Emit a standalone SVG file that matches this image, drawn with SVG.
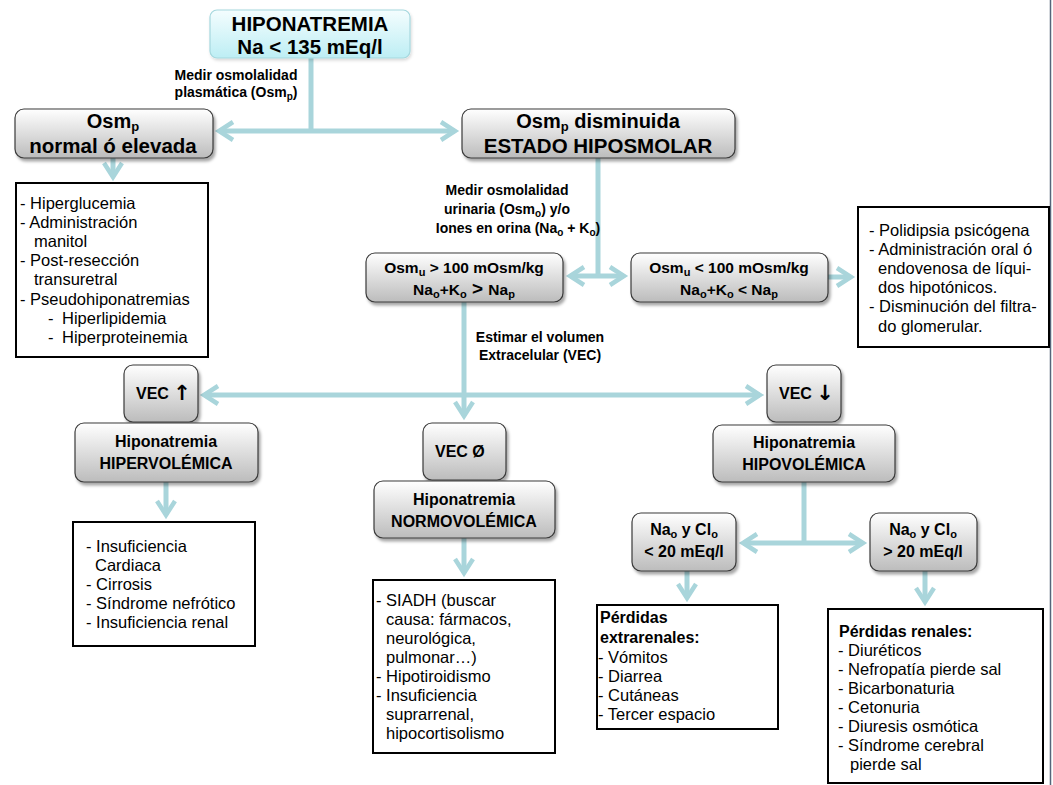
<svg xmlns="http://www.w3.org/2000/svg" width="1053" height="785" viewBox="0 0 1053 785">
<style>
.gb{fill:url(#gGray);stroke:#3a3a3a;stroke-width:1.2;filter:url(#sh)}
.cb{fill:url(#gCyan);stroke:#a6d8de;stroke-width:1.2;filter:url(#sh2)}
.lb{fill:#ffffff;stroke:#000000;stroke-width:2}
.h{font-family:"Liberation Sans",Arial,sans-serif;font-weight:bold;fill:#000;text-anchor:middle}
.t{font-family:"Liberation Sans",Arial,sans-serif;font-size:16.5px;fill:#000}
.tb{font-family:"Liberation Sans",Arial,sans-serif;font-size:16px;font-weight:bold;fill:#000}
.lab{font-family:"Liberation Sans",Arial,sans-serif;font-size:14px;font-weight:bold;fill:#000;text-anchor:middle}
.c{fill:none;stroke:#a9d5db;stroke-width:5}
.ca{fill:none;stroke:#a9d5db;stroke-width:5;marker-end:url(#ah)}
</style>
<defs>
<linearGradient id="gGray" x1="0" y1="0" x2="0" y2="1">
<stop offset="0" stop-color="#ffffff"/>
<stop offset="1" stop-color="#bcbcbc"/>
</linearGradient>
<linearGradient id="gCyan" x1="0" y1="0" x2="0" y2="1">
<stop offset="0" stop-color="#f4fdfe"/>
<stop offset="1" stop-color="#bdeef4"/>
</linearGradient>
<filter id="sh" x="-20%" y="-20%" width="140%" height="150%">
<feDropShadow dx="2" dy="3" stdDeviation="1.8" flood-color="#000" flood-opacity="0.35"/>
</filter>
<filter id="sh2" x="-20%" y="-20%" width="140%" height="150%">
<feDropShadow dx="1" dy="2" stdDeviation="1.5" flood-color="#000" flood-opacity="0.15"/>
</filter>
<marker id="ah" viewBox="-20 -12 26 24" refX="0" refY="0" markerWidth="26" markerHeight="24" markerUnits="userSpaceOnUse" orient="auto">
<path d="M-14,-9 L0,0 L-14,9" fill="none" stroke="#a9d5db" stroke-width="4.5"/>
</marker>
</defs>
<rect x="0" y="0" width="1053" height="785" fill="#ffffff"/>
<line x1="1050.5" y1="0" x2="1050.5" y2="785" stroke="#56657a" stroke-width="1.5"/>

<g id="connectors">
<path class="c" d="M311,58 V131"/>
<path class="ca" d="M311,131 H219"/>
<path class="ca" d="M311,131 H455"/>
<path class="ca" d="M113,158 V177"/>
<path class="c" d="M598,158 V276"/>
<path class="ca" d="M598,276 H570"/>
<path class="ca" d="M598,276 H624"/>
<path class="ca" d="M828,277 H851"/>
<path class="c" d="M464,302 V395"/>
<path class="ca" d="M464,395 H204"/>
<path class="ca" d="M464,395 H760"/>
<path class="ca" d="M464,395 V416"/>
<path class="ca" d="M166,482 V515"/>
<path class="ca" d="M464,538 V573"/>
<path class="c" d="M804,482 V543"/>
<path class="ca" d="M804,543 H743"/>
<path class="ca" d="M804,543 H863"/>
<path class="ca" d="M687,571 V598"/>
<path class="ca" d="M925,571 V602"/>
</g>

<g id="lbl-plasma">
<text class="lab" x="236" y="80">Medir osmolalidad</text>
<text class="lab" x="236" y="97">plasmática (Osm<tspan font-size="10" dy="3">p</tspan><tspan dy="-3">)</tspan></text>
</g>
<g id="lbl-urina">
<text class="lab" x="507" y="195">Medir osmolalidad</text>
<text class="lab" x="507" y="214">urinaria (Osm<tspan font-size="10" dy="3">o</tspan><tspan dy="-3">) y/o</tspan></text>
<text class="lab" x="518" y="233">Iones en orina (Na<tspan font-size="10" dy="3">o</tspan><tspan dy="-3"> + K</tspan><tspan font-size="10" dy="3">o</tspan><tspan dy="-3">)</tspan></text>
</g>
<g id="lbl-vec">
<text class="lab" x="540" y="342">Estimar el volumen</text>
<text class="lab" x="540" y="360">Extracelular (VEC)</text>
</g>

<g id="n-hipo">
<rect class="cb" x="210" y="10" width="200" height="48" rx="7"/>
<text class="h" x="310" y="31" font-size="20.5">HIPONATREMIA</text>
<text class="h" x="310" y="54" font-size="20.5">Na &lt; 135 mEq/l</text>
</g>

<g id="n-osm-normal">
<rect class="gb" x="15" y="109" width="198" height="49" rx="9"/>
<text class="h" x="113" y="128" font-size="20">Osm<tspan font-size="13" dy="3">p</tspan></text>
<text class="h" x="113" y="153" font-size="20.5">normal ó elevada</text>
</g>

<g id="n-osm-dism">
<rect class="gb" x="462" y="109" width="273" height="49" rx="9"/>
<text class="h" x="598" y="128" font-size="20">Osm<tspan font-size="13" dy="3">p</tspan><tspan dy="-3"> disminuida</tspan></text>
<text class="h" x="598" y="153" font-size="20.5">ESTADO HIPOSMOLAR</text>
</g>

<g id="l-normal">
<rect class="lb" x="16" y="183" width="192" height="174"/>
<text class="t" x="20" y="209">- Hiperglucemia</text>
<text class="t" x="20" y="228">- Administración</text>
<text class="t" x="34" y="247">manitol</text>
<text class="t" x="20" y="266">- Post-resección</text>
<text class="t" x="34" y="285">transuretral</text>
<text class="t" x="20" y="305">- Pseudohiponatremias</text>
<text class="t" x="48" y="324">-</text><text class="t" x="62" y="324">Hiperlipidemia</text>
<text class="t" x="48" y="343">-</text><text class="t" x="62" y="343">Hiperproteinemia</text>
</g>

<g id="n-osmu-high">
<rect class="gb" x="366" y="253" width="197" height="49" rx="9"/>
<text class="h" x="464" y="273" font-size="15.5">Osm<tspan font-size="11" dy="3">u</tspan><tspan dy="-3"> &gt; 100 mOsm/kg</tspan></text>
<text class="h" x="464" y="295" font-size="15.5">Na<tspan font-size="11" dy="3">o</tspan><tspan dy="-3">+K</tspan><tspan font-size="11" dy="3">o</tspan><tspan dy="-3" font-size="19"> &gt; </tspan><tspan>Na</tspan><tspan font-size="11" dy="3">p</tspan></text>
</g>

<g id="n-osmu-low">
<rect class="gb" x="631" y="253" width="197" height="49" rx="9"/>
<text class="h" x="729" y="273" font-size="15.5">Osm<tspan font-size="11" dy="3">u</tspan><tspan dy="-3"> &lt; 100 mOsm/kg</tspan></text>
<text class="h" x="729" y="295" font-size="15.5">Na<tspan font-size="11" dy="3">o</tspan><tspan dy="-3">+K</tspan><tspan font-size="11" dy="3">o</tspan><tspan dy="-3"> &lt; Na</tspan><tspan font-size="11" dy="3">p</tspan></text>
</g>

<g id="l-low">
<rect class="lb" x="858" y="207" width="191" height="140"/>
<text class="t" x="869" y="236">- Polidipsia psicógena</text>
<text class="t" x="869" y="255">- Administración oral ó</text>
<text class="t" x="878" y="274">endovenosa de líqui-</text>
<text class="t" x="878" y="293">dos hipotónicos.</text>
<text class="t" x="869" y="312">- Disminución del filtra-</text>
<text class="t" x="878" y="332">do glomerular.</text>
</g>

<g id="n-vec-up">
<rect class="gb" x="124" y="365" width="74" height="57" rx="9"/>
<text class="tb" x="136" y="399">VEC <tspan font-family="DejaVu Sans" font-size="21" dy="1">↑</tspan></text>
</g>

<g id="n-hiper">
<rect class="gb" x="75" y="423" width="183" height="59" rx="9"/>
<text class="h" x="166" y="447" font-size="16">Hiponatremia</text>
<text class="h" x="166" y="469" font-size="16">HIPERVOLÉMICA</text>
</g>

<g id="l-hiper">
<rect class="lb" x="73" y="522" width="182" height="124"/>
<text class="t" x="86" y="552">- Insuficiencia</text>
<text class="t" x="95" y="571">Cardiaca</text>
<text class="t" x="86" y="590">- Cirrosis</text>
<text class="t" x="86" y="609">- Síndrome nefrótico</text>
<text class="t" x="86" y="628">- Insuficiencia renal</text>
</g>

<g id="n-vec-eq">
<rect class="gb" x="423" y="423" width="83" height="57" rx="9"/>
<text class="tb" x="435" y="457">VEC Ø</text>
</g>

<g id="n-normo">
<rect class="gb" x="374" y="481" width="181" height="57" rx="9"/>
<text class="h" x="464" y="505" font-size="16">Hiponatremia</text>
<text class="h" x="464" y="527" font-size="16">NORMOVOLÉMICA</text>
</g>

<g id="l-normo">
<rect class="lb" x="373" y="580" width="182" height="173"/>
<text class="t" x="376" y="606">- SIADH (buscar</text>
<text class="t" x="386" y="625">causa: fármacos,</text>
<text class="t" x="386" y="644">neurológica,</text>
<text class="t" x="386" y="663">pulmonar…)</text>
<text class="t" x="376" y="682">- Hipotiroidismo</text>
<text class="t" x="376" y="701">- Insuficiencia</text>
<text class="t" x="386" y="720">suprarrenal,</text>
<text class="t" x="386" y="739">hipocortisolismo</text>
</g>

<g id="n-vec-down">
<rect class="gb" x="767" y="365" width="74" height="57" rx="9"/>
<text class="tb" x="779" y="399">VEC <tspan font-family="DejaVu Sans" font-size="21" dy="1">↓</tspan></text>
</g>

<g id="n-hipov">
<rect class="gb" x="713" y="425" width="182" height="57" rx="9"/>
<text class="h" x="804" y="448" font-size="16">Hiponatremia</text>
<text class="h" x="804" y="470" font-size="16">HIPOVOLÉMICA</text>
</g>

<g id="n-na-low">
<rect class="gb" x="632" y="513" width="104" height="58" rx="9"/>
<text class="h" x="684" y="535" font-size="16">Na<tspan font-size="11" dy="3">o</tspan><tspan dy="-3"> y Cl</tspan><tspan font-size="11" dy="3">o</tspan></text>
<text class="h" x="684" y="557" font-size="16">&lt; 20 mEq/l</text>
</g>

<g id="n-na-high">
<rect class="gb" x="870" y="513" width="107" height="58" rx="9"/>
<text class="h" x="923" y="535" font-size="16">Na<tspan font-size="11" dy="3">o</tspan><tspan dy="-3"> y Cl</tspan><tspan font-size="11" dy="3">o</tspan></text>
<text class="h" x="923" y="557" font-size="16">&gt; 20 mEq/l</text>
</g>

<g id="l-extra">
<rect class="lb" x="597" y="605" width="181" height="124"/>
<text class="tb" x="600" y="623">Pérdidas</text>
<text class="tb" x="600" y="643">extrarenales:</text>
<text class="t" x="598" y="663">- Vómitos</text>
<text class="t" x="598" y="682">- Diarrea</text>
<text class="t" x="598" y="701">- Cutáneas</text>
<text class="t" x="598" y="720">- Tercer espacio</text>
</g>

<g id="l-renal">
<rect class="lb" x="828" y="609" width="215" height="174"/>
<text class="tb" x="839" y="637">Pérdidas renales:</text>
<text class="t" x="838" y="656">- Diuréticos</text>
<text class="t" x="838" y="675">- Nefropatía pierde sal</text>
<text class="t" x="838" y="694">- Bicarbonaturia</text>
<text class="t" x="838" y="713">- Cetonuria</text>
<text class="t" x="838" y="732">- Diuresis osmótica</text>
<text class="t" x="838" y="751">- Síndrome cerebral</text>
<text class="t" x="850" y="770">pierde sal</text>
</g>
</svg>
